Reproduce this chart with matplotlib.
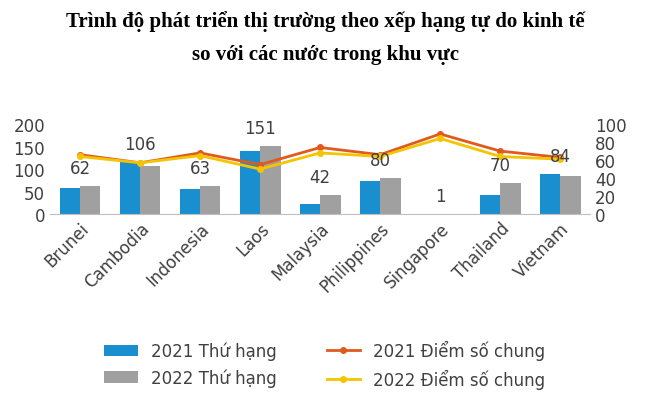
import matplotlib.pyplot as plt
import numpy as np

countries = ["Brunei","Cambodia","Indonesia","Laos","Malaysia","Philippines","Singapore","Thailand","Vietnam"]
rank2021 = [57,115,55,140,22,73,0,42,90]
rank2022 = [62,106,63,151,42,80,1,70,84]
score2021 = [66,57,68,55,74,66,89,70,63]
score2022 = [64,57,65,50,68,64,84,64,61]

fig = plt.figure(figsize=(6.5,4.06), dpi=100)
ax = fig.add_axes([0.077,0.47,0.831,0.222])
x = np.arange(len(countries))
w = 0.34
ax.bar(x-w/2, rank2021, w, color="#1a8fd0", label="2021 Thứ hạng")
ax.bar(x+w/2, rank2022, w, color="#a0a0a0", label="2022 Thứ hạng")
ax.set_ylim(0,200)
ax.set_yticks([0,50,100,150,200])
ax.set_xlim(-0.5,8.5)
ax.set_xticks(x)
ax.set_xticklabels(countries, rotation=45, ha="right", rotation_mode="anchor", fontsize=12, color="#404040")
ax.tick_params(axis="y", labelsize=12, colors="#404040", length=0)
ax.tick_params(axis="x", length=0)
for s in ax.spines.values(): s.set_visible(False)
ax.spines["bottom"].set_visible(True); ax.spines["bottom"].set_color("#bfbfbf")
ax2 = ax.twinx()
ax2.plot(x, score2021, color="#e05a1e", marker="o", markersize=4, lw=2, label="2021 Điểm số chung")
ax2.plot(x, score2022, color="#f5c400", marker="o", markersize=4, lw=2, label="2022 Điểm số chung")
ax2.set_ylim(0,100)
ax2.set_yticks([0,20,40,60,80,100])
ax2.tick_params(axis="y", labelsize=12, colors="#404040", length=0)
for s in ax2.spines.values(): s.set_visible(False)
for xi, v in zip(x, rank2022):
    top = max(v, rank2021[int(xi)])
    ax2.text(xi, top+20, str(v), ha="center", va="bottom", fontsize=12, color="#404040",
             transform=ax.transData, zorder=5)
h1,l1 = ax.get_legend_handles_labels(); h2,l2 = ax2.get_legend_handles_labels()
fig.legend(h1+h2, l1+l2, loc="center", bbox_to_anchor=(0.5,0.1), ncol=2, frameon=False, fontsize=12, columnspacing=3, labelcolor="#404040")
fig.text(0.5,0.946,"Trình độ phát triển thị trường theo xếp hạng tự do kinh tế", ha="center", va="center", fontsize=15, fontweight="bold", family="Liberation Serif")
fig.text(0.5,0.865,"so với các nước trong khu vực", ha="center", va="center", fontsize=15, fontweight="bold", family="Liberation Serif")
fig.savefig("out.png", dpi=100)
